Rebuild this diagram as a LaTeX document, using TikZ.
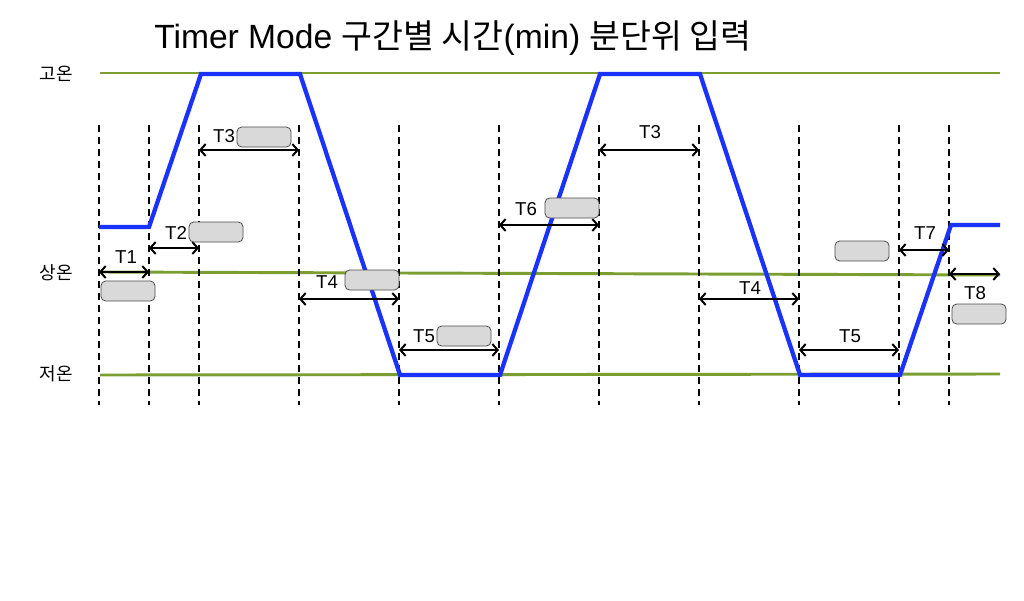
\documentclass[tikz,border=0pt]{standalone}
\usepackage{fontspec}
\setmainfont{Liberation Sans}
\newfontfamily\kr{Noto Sans CJK KR}
\usetikzlibrary{arrows.meta}
\definecolor{lvl}{RGB}{122,158,48}
\definecolor{prof}{RGB}{26,50,255}
\definecolor{boxfill}{RGB}{217,217,217}
\tikzset{
  level/.style={draw=lvl, line width=2.2pt},
  profile/.style={draw=prof, line width=3.2pt, line join=miter},
  guide/.style={draw=black, line width=1.3pt, dash pattern=on 5pt off 4pt},
  span/.style={draw=black, line width=1.5pt, {Straight Barb[length=4pt,width=9pt]}-{Straight Barb[length=4pt,width=9pt]}},
  inbox/.style={draw=black!70, fill=boxfill, rounded corners=3.5pt, line width=0.6pt, minimum width=40.5pt, minimum height=15pt, inner sep=0pt},
  tlabel/.style={font=\fontsize{14pt}{16pt}\selectfont, inner sep=0pt},
  llabel/.style={font=\kr\fontsize{13.5pt}{16pt}\selectfont, inner sep=0pt},
}
\begin{document}
\begin{tikzpicture}[x=0.75pt,y=-0.75pt]
\useasboundingbox (0,0) rectangle (1024,600);
\fill[white] (0,0) rectangle (1024,600);
% title
\node[font=\fontsize{25.2pt}{30pt}\selectfont, inner sep=0pt] (title) at (453,38) {Timer Mode {\kr 구간별 시간}(min) {\kr 분단위 입력}};
% level labels
\node[llabel] (hi) at (56,74) {고온};
\node[llabel] (rt) at (56,273) {상온};
\node[llabel] (lo) at (56,374) {저온};
% level lines
\coordinate (hiA) at (100,73); \coordinate (hiB) at (1000,73);
\coordinate (rtA) at (100,272); \coordinate (rtB) at (1000,275);
\coordinate (loA) at (100,375); \coordinate (loB) at (1000,374);
\draw[level] (hiA) -- (hiB);
\draw[level] (rtA) -- (rtB);
\draw[level] (loA) -- (loB);
% guides
\foreach \x [count=\i] in {99,149,199,299,399,499,599,699,799,899,949}{
  \coordinate (g\i t) at (\x,125);
  \coordinate (g\i b) at (\x,405);
  \draw[guide] (g\i t) -- (g\i b);
}
% profile
\coordinate (p0) at (99,227);
\coordinate (p1) at (149,227);
\coordinate (p2) at (201,74);
\coordinate (p3) at (300,74);
\coordinate (p4) at (400,375);
\coordinate (p5) at (500,375);
\coordinate (p6) at (600,74);
\coordinate (p7) at (700,74);
\coordinate (p8) at (800,375);
\coordinate (p9) at (900,375);
\coordinate (p10) at (951,225);
\coordinate (p11) at (1000,225);
\draw[profile] (p0) -- (p1) -- (p2) -- (p3) -- (p4) -- (p5) -- (p6) -- (p7) -- (p8) -- (p9) -- (p10) -- (p11);
% spans
\coordinate (a1l) at (99,272);  \coordinate (a1r) at (149,272);
\coordinate (a2l) at (149,248); \coordinate (a2r) at (199,248);
\coordinate (a3l) at (199,150); \coordinate (a3r) at (299,150);
\coordinate (a4l) at (299,299); \coordinate (a4r) at (399,299);
\coordinate (a5l) at (399,350); \coordinate (a5r) at (499,350);
\coordinate (a6l) at (499,225); \coordinate (a6r) at (599,225);
\coordinate (b3l) at (599,150); \coordinate (b3r) at (699,150);
\coordinate (b4l) at (699,299); \coordinate (b4r) at (799,299);
\coordinate (b5l) at (799,350); \coordinate (b5r) at (899,350);
\coordinate (a7l) at (899,250); \coordinate (a7r) at (949,250);
\coordinate (a8l) at (949,274); \coordinate (a8r) at (1000,274);
\foreach \s in {a1,a2,a3,a4,a5,a6,b3,b4,b5,a7,a8}{
  \draw[span] (\s l) -- (\s r);
}
% span labels
\node[tlabel] (t1) at (126,257) {T1};
\node[tlabel] (t2) at (176,233) {T2};
\node[tlabel] (t3) at (224,136) {T3};
\node[tlabel] (t4) at (327,282) {T4};
\node[tlabel] (t5) at (424,336) {T5};
\node[tlabel] (t6) at (526,209) {T6};
\node[tlabel] (t3b) at (650,132) {T3};
\node[tlabel] (t4b) at (750,288) {T4};
\node[tlabel] (t5b) at (850,336) {T5};
\node[tlabel] (t7) at (925,233) {T7};
\node[tlabel] (t8) at (975,293) {T8};
% input boxes
\node[inbox] (i1) at (128,291) {};
\node[inbox] (i2) at (216,232) {};
\node[inbox] (i3) at (264,137) {};
\node[inbox] (i4) at (372,280) {};
\node[inbox] (i5) at (464,336) {};
\node[inbox] (i6) at (572,208) {};
\node[inbox] (i7) at (862,251) {};
\node[inbox] (i8) at (979,314) {};
\end{tikzpicture}
\end{document}
